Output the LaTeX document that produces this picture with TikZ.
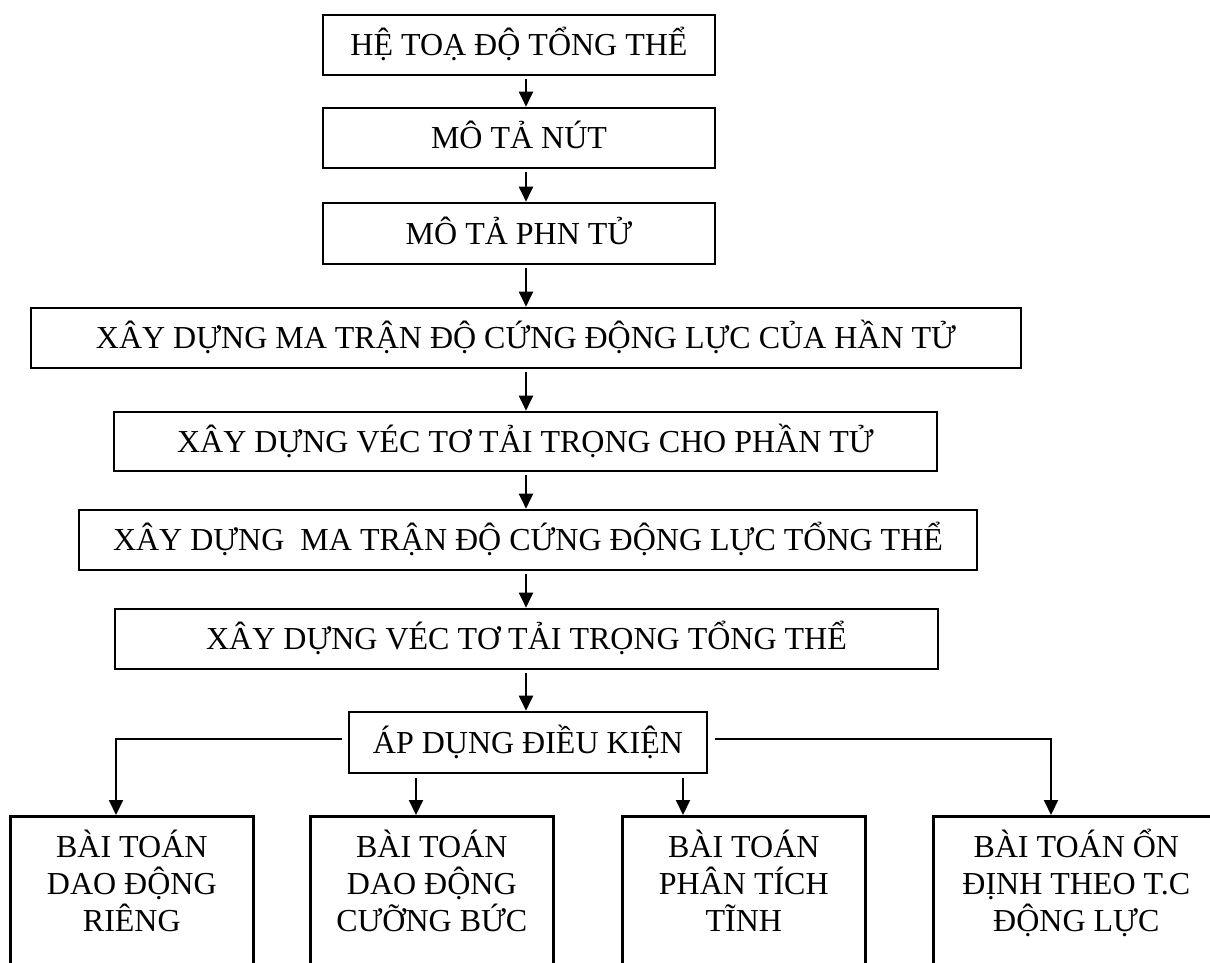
\documentclass[tikz,border=0pt]{standalone}
\usepackage{fontspec}
\setmainfont{Liberation Serif}
\usetikzlibrary{arrows.meta}
\begin{document}
\begin{tikzpicture}[x=0.5pt,y=-0.5pt,
  box/.style={draw, line width=1.3pt, inner sep=0pt, font=\fontsize{16}{18.5}\selectfont, text height=14pt, text depth=3.4pt},
  btm/.style={draw, line width=1.3pt, inner sep=0pt, anchor=north west, font=\fontsize{16}{18.5}\selectfont},
  arr/.style={line width=1pt, -{Triangle[width=7pt,length=7.5pt]}}]
\useasboundingbox (0,0) rectangle (1210,963);
\clip (0,0) rectangle (1210,963);

\node[box, minimum width=196pt, minimum height=30pt] (b1) at (519,45) {HỆ TOẠ ĐỘ TỔNG THỂ\hspace{8pt}};
\node[box, minimum width=196pt, minimum height=30pt] (b2) at (519,138) {MÔ TẢ NÚT\hspace{3pt}};
\node[box, minimum width=196pt, minimum height=30.5pt] (b3) at (519,233.5) {MÔ TẢ PHN TỬ\hspace{2pt}};
\node[box, minimum width=495pt, minimum height=30pt] (b4) at (526,338) {XÂY DỰNG MA TRẬN ĐỘ CỨNG ĐỘNG LỰC CỦA HẦN TỬ};
\node[box, minimum width=411.5pt, minimum height=29.5pt] (b5) at (525.5,441.5) {XÂY DỰNG VÉC TƠ TẢI TRỌNG CHO PHẦN TỬ};
\node[box, minimum width=449pt, minimum height=30pt] (b6) at (528,540) {XÂY DỰNG~~MA TRẬN ĐỘ CỨNG ĐỘNG LỰC TỔNG THỂ};
\node[box, minimum width=411.5pt, minimum height=30pt] (b7) at (526.5,639) {XÂY DỰNG VÉC TƠ TẢI TRỌNG TỔNG THỂ};
\node[box, minimum width=179pt, minimum height=30.5pt] (b8) at (528,742.5) {ÁP DỤNG ĐIỀU KIỆN};

\node[btm] (bA) at (9,815) {\parbox[t][80pt][t]{121.5pt}{\centering\rule{0pt}{20.5pt}BÀI TOÁN\\DAO ĐỘNG\\RIÊNG}};
\node[btm] (bB) at (309,815) {\parbox[t][80pt][t]{121.5pt}{\centering\rule{0pt}{20.5pt}BÀI TOÁN\\DAO ĐỘNG\\CƯỠNG BỨC}};
\node[btm] (bC) at (621,815) {\parbox[t][80pt][t]{121.5pt}{\centering\rule{0pt}{20.5pt}BÀI TOÁN\\PHÂN TÍCH\\TĨNH}};
\node[btm] (bD) at (932,815) {\parbox[t][80pt][t]{143pt}{\centering\rule{0pt}{20.5pt}BÀI TOÁN ỔN\\ĐỊNH THEO T.C\\ĐỘNG LỰC}};

\coordinate (ax) at (526,0);
\foreach \a/\b in {b1/b2,b2/b3,b3/b4,b4/b5,b5/b6,b6/b7,b7/b8}
  \draw[arr, shorten <=1.5pt] (ax |- \a.south) -- (ax |- \b.north);

\coordinate (cA) at (116,0);
\coordinate (cB) at (416,0);
\coordinate (cC) at (683,0);
\coordinate (cD) at (1051,0);
\draw[arr] ([xshift=-3pt,yshift=1.75pt]b8.west) -| (cA |- bA.north);
\draw[arr, shorten <=2pt] (cB |- b8.south) -- (cB |- bB.north);
\draw[arr, shorten <=2pt] (cC |- b8.south) -- (cC |- bC.north);
\draw[arr] ([xshift=3.5pt,yshift=1.75pt]b8.east) -| (cD |- bD.north);
\end{tikzpicture}
\end{document}
